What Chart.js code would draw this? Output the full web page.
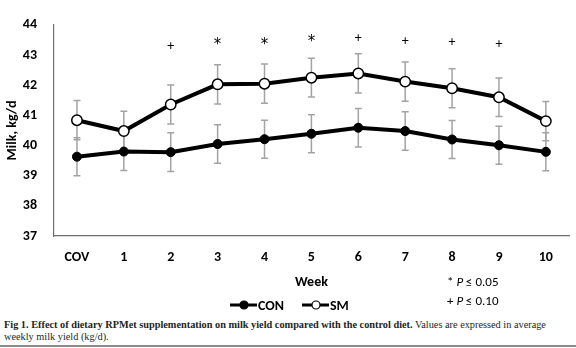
<!DOCTYPE html>
<html>
<head>
<meta charset="utf-8">
<script src="https://cdn.jsdelivr.net/npm/chart.js@4/dist/chart.umd.min.js"></script>
<style>
  html, body { margin: 0; padding: 0; background: #fff; }
  #wrap { position: relative; width: 576px; height: 348px; overflow: hidden; }
  #c { position: absolute; left: 0; top: 0; }
  #cap { position: absolute; left: 4px; top: 318.5px; width: 572px; font-family: "Liberation Serif", serif; font-size: 10.3px; line-height: 12px; color: #231f20; white-space: nowrap; }
  #rule { position: absolute; left: 0; top: 345px; width: 576px; height: 1.5px; background: #8a8a8a; }
</style>
</head>
<body>
<div id="wrap">
  <canvas id="c" width="576" height="318"></canvas>
  <div id="cap"><b>Fig 1. Effect of dietary RPMet supplementation on milk yield compared with the control diet.</b> Values are expressed in average<br>weekly milk yield (kg/d).</div>
  <div id="rule"></div>
</div>
<script>
// ---- data ----
const weeks = ["COV", "1", "2", "3", "4", "5", "6", "7", "8", "9", "10"];
const conMilk = [39.63, 39.80, 39.78, 40.05, 40.21, 40.39, 40.59, 40.48, 40.20, 40.01, 39.79];
const conErr  = [0.63, 0.63, 0.64, 0.64, 0.63, 0.63, 0.64, 0.64, 0.63, 0.63, 0.63];
const smMilk  = [40.84, 40.48, 41.36, 42.03, 42.05, 42.25, 42.39, 42.12, 41.90, 41.60, 40.81];
const smErr   = [0.65, 0.66, 0.65, 0.65, 0.65, 0.64, 0.65, 0.65, 0.65, 0.64, 0.65];
const sigMarks = ["", "", "+", "*", "*", "*", "+", "+", "+", "+", ""];
const sigLevel = [null, null, 43.27, 43.38, 43.41, 43.49, 43.54, 43.46, 43.43, 43.36, null];
const yTicks = [37, 38, 39, 40, 41, 42, 43, 44];
const seriesNames = ["CON", "SM"];
const noteLines = [["* ", "P", " \u2264 0.05"], ["+ ", "P", " \u2264 0.10"]];

const FONT = "Carlito, Lato, 'Open Sans', sans-serif";

const errorBars = {
  id: "errorBars",
  beforeDatasetsDraw(chart) {
    const ctx = chart.ctx;
    const x = chart.scales.x, y = chart.scales.y;
    const sets = [[conMilk, conErr], [smMilk, smErr]];
    ctx.save();
    ctx.strokeStyle = "#a3a3a3";
    ctx.lineWidth = 1.5;
    sets.forEach(([vals, errs]) => {
      vals.forEach((v, i) => {
        const px = x.getPixelForValue(i);
        const top = y.getPixelForValue(v + errs[i]);
        const bot = y.getPixelForValue(v - errs[i]);
        ctx.beginPath();
        ctx.moveTo(px, top); ctx.lineTo(px, bot);
        ctx.moveTo(px - 3.5, top); ctx.lineTo(px + 3.5, top);
        ctx.moveTo(px - 3.5, bot); ctx.lineTo(px + 3.5, bot);
        ctx.stroke();
      });
    });
    ctx.restore();
  }
};

const extras = {
  id: "extras",
  afterDraw(chart) {
    const ctx = chart.ctx;
    const x = chart.scales.x, y = chart.scales.y;
    ctx.save();
    // significance markers
    ctx.fillStyle = "#000";
    ctx.textAlign = "center";
    ctx.textBaseline = "middle";
    sigMarks.forEach((m, i) => {
      if (!m) return;
      let py = y.getPixelForValue(sigLevel[i]);
      if (m === "*") {
        ctx.font = "15px 'DejaVu Sans', sans-serif";
        py += 2;
      } else {
        ctx.font = "14px " + FONT;
      }
      ctx.fillText(m, x.getPixelForValue(i), py);
    });
    // legend
    const ly = 305;
    const items = [
      { x0: 230, fill: "#000", name: seriesNames[0] },
      { x0: 302, fill: "#fff", name: seriesNames[1] }
    ];
    items.forEach(it => {
      ctx.strokeStyle = "#000";
      ctx.lineWidth = 3;
      ctx.beginPath();
      ctx.moveTo(it.x0, ly); ctx.lineTo(it.x0 + 27, ly);
      ctx.stroke();
      ctx.beginPath();
      ctx.arc(it.x0 + 14, ly, 4, 0, Math.PI * 2);
      ctx.fillStyle = it.fill;
      ctx.fill();
      ctx.lineWidth = 1.2;
      ctx.stroke();
      ctx.fillStyle = "#000";
      ctx.font = "bold 14px " + FONT;
      ctx.textAlign = "left";
      ctx.fillText(it.name, it.x0 + 28, ly + 1);
    });
    // notes
    noteLines.forEach((parts, k) => {
      let px = 447;
      const py = 283 + k * 19;
      parts.forEach((p, j) => {
        ctx.font = (j === 1 ? "italic " : "") + "13px " + FONT;
        ctx.fillText(p, px, py);
        px += ctx.measureText(p).width;
      });
    });
    ctx.restore();
  }
};

new Chart(document.getElementById("c"), {
  type: "line",
  data: {
    labels: weeks,
    datasets: [
      {
        label: seriesNames[0],
        data: conMilk,
        borderColor: "#000",
        borderWidth: 4,
        pointRadius: 4.5,
        pointBackgroundColor: "#000",
        pointBorderColor: "#000",
        pointBorderWidth: 1,
        tension: 0
      },
      {
        label: seriesNames[1],
        data: smMilk,
        borderColor: "#000",
        borderWidth: 4,
        pointRadius: 5.2,
        pointBackgroundColor: "#fff",
        pointBorderColor: "#000",
        pointBorderWidth: 1.5,
        tension: 0
      }
    ]
  },
  options: {
    responsive: false,
    animation: false,
    devicePixelRatio: 1,
    layout: { padding: { left: 0, right: 5, top: 23, bottom: 0 } },
    plugins: {
      legend: { display: false },
      tooltip: { enabled: false }
    },
    scales: {
      x: {
        type: "category",
        offset: true,
        grid: { display: false, drawTicks: false },
        border: { display: true, color: "#6e6e6e", width: 1.2 },
        ticks: { color: "#000", font: { family: FONT, size: 14, weight: "bold" }, padding: 13, maxRotation: 0, autoSkip: false },
        title: { display: true, text: "Week", color: "#000", font: { family: FONT, size: 14, weight: "bold" }, padding: { top: 27.6, bottom: 27.6 } },
        afterFit(s) { s.height = 82; }
      },
      y: {
        min: 37,
        max: 44,
        afterBuildTicks(s) { s.ticks = yTicks.map(v => ({ value: v })); },
        grid: { display: false, drawTicks: false },
        border: { display: true, color: "#6e6e6e", width: 1.2 },
        ticks: { color: "#000", font: { family: FONT, size: 14, weight: "bold" }, padding: 16.5 },
        title: { display: true, text: "Milk, kg/d", color: "#000", font: { family: FONT, size: 14, weight: "bold" }, padding: { top: 3.6, bottom: 3.6 } },
        afterFit(s) { s.width = 53.5; }
      }
    }
  },
  plugins: [errorBars, extras]
});
</script>
</body>
</html>
